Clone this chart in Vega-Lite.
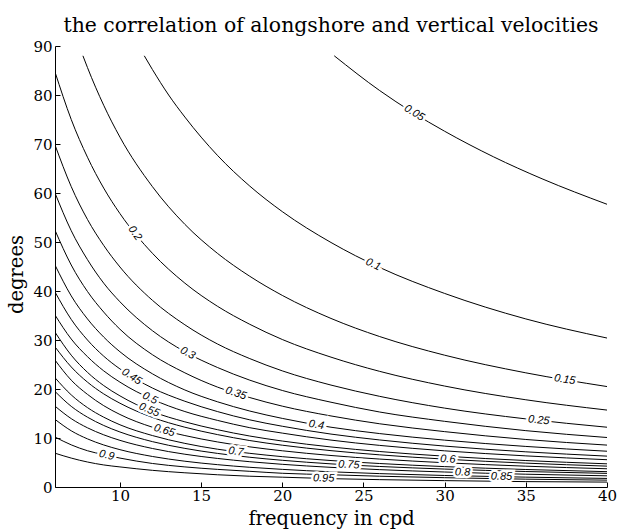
{
  "$schema": "https://vega.github.io/schema/vega-lite/v6.json",
  "width": 552,
  "height": 441,
  "autosize": "none",
  "padding": {"left": 55, "top": 46, "right": 31, "bottom": 44},
  "background": "white",
  "view": {"stroke": null},
  "title": {"text": "the correlation of alongshore and vertical velocities", "font": "DejaVu Serif", "fontSize": 20.4, "fontWeight": "normal", "color": "black", "anchor": "middle", "offset": 3},
  "datasets": {
    "lines": [
      {"r":"0.05","f":23.2,"deg":88.0},{"r":"0.05","f":26,"deg":80.9},{"r":"0.05","f":28,"deg":76.5},{"r":"0.05","f":30,"deg":72.6},{"r":"0.05","f":33,"deg":67.4},{"r":"0.05","f":36,"deg":62.9},{"r":"0.05","f":40,"deg":57.7},
      {"r":"0.1","f":11.5,"deg":88.0},{"r":"0.1","f":12,"deg":85.2},{"r":"0.1","f":13,"deg":80.0},{"r":"0.1","f":14,"deg":75.5},{"r":"0.1","f":16,"deg":67.7},{"r":"0.1","f":18,"deg":61.4},{"r":"0.1","f":20,"deg":56.2},{"r":"0.1","f":23,"deg":49.9},{"r":"0.1","f":26,"deg":44.8},{"r":"0.1","f":30,"deg":39.5},{"r":"0.1","f":35,"deg":34.3},{"r":"0.1","f":40,"deg":30.4},
      {"r":"0.15","f":7.72,"deg":88.0},{"r":"0.15","f":8,"deg":85.6},{"r":"0.15","f":9,"deg":77.9},{"r":"0.15","f":10,"deg":71.4},{"r":"0.15","f":12,"deg":61.3},{"r":"0.15","f":14,"deg":53.6},{"r":"0.15","f":16,"deg":47.7},{"r":"0.15","f":18,"deg":43.0},{"r":"0.15","f":20,"deg":39.1},{"r":"0.15","f":23,"deg":34.4},{"r":"0.15","f":26,"deg":30.7},{"r":"0.15","f":30,"deg":26.9},{"r":"0.15","f":35,"deg":23.3},{"r":"0.15","f":40,"deg":20.5},
      {"r":"0.2","f":6,"deg":84.7},{"r":"0.2","f":7,"deg":75.0},{"r":"0.2","f":8,"deg":67.3},{"r":"0.2","f":9,"deg":61.0},{"r":"0.2","f":10,"deg":55.8},{"r":"0.2","f":12,"deg":47.7},{"r":"0.2","f":14,"deg":41.6},{"r":"0.2","f":16,"deg":36.9},{"r":"0.2","f":18,"deg":33.2},{"r":"0.2","f":20,"deg":30.1},{"r":"0.2","f":23,"deg":26.5},{"r":"0.2","f":26,"deg":23.6},{"r":"0.2","f":30,"deg":20.6},{"r":"0.2","f":35,"deg":17.8},{"r":"0.2","f":40,"deg":15.7},
      {"r":"0.25","f":6,"deg":69.8},{"r":"0.25","f":7,"deg":61.3},{"r":"0.25","f":8,"deg":54.6},{"r":"0.25","f":9,"deg":49.3},{"r":"0.25","f":10,"deg":44.9},{"r":"0.25","f":12,"deg":38.1},{"r":"0.25","f":14,"deg":33.1},{"r":"0.25","f":16,"deg":29.2},{"r":"0.25","f":18,"deg":26.2},{"r":"0.25","f":20,"deg":23.7},{"r":"0.25","f":23,"deg":20.8},{"r":"0.25","f":26,"deg":18.5},{"r":"0.25","f":30,"deg":16.1},{"r":"0.25","f":35,"deg":13.9},{"r":"0.25","f":40,"deg":12.2},
      {"r":"0.3","f":6,"deg":60.0},{"r":"0.3","f":7,"deg":52.3},{"r":"0.3","f":8,"deg":46.4},{"r":"0.3","f":9,"deg":41.6},{"r":"0.3","f":10,"deg":37.8},{"r":"0.3","f":12,"deg":31.9},{"r":"0.3","f":14,"deg":27.6},{"r":"0.3","f":16,"deg":24.4},{"r":"0.3","f":18,"deg":21.8},{"r":"0.3","f":20,"deg":19.7},{"r":"0.3","f":23,"deg":17.3},{"r":"0.3","f":26,"deg":15.3},{"r":"0.3","f":30,"deg":13.4},{"r":"0.3","f":35,"deg":11.5},{"r":"0.3","f":40,"deg":10.1},
      {"r":"0.35","f":6,"deg":52.4},{"r":"0.35","f":7,"deg":45.3},{"r":"0.35","f":8,"deg":39.9},{"r":"0.35","f":9,"deg":35.7},{"r":"0.35","f":10,"deg":32.2},{"r":"0.35","f":12,"deg":27.0},{"r":"0.35","f":14,"deg":23.3},{"r":"0.35","f":16,"deg":20.4},{"r":"0.35","f":18,"deg":18.25},{"r":"0.35","f":20,"deg":16.5},{"r":"0.35","f":23,"deg":14.5},{"r":"0.35","f":26,"deg":12.9},{"r":"0.35","f":30,"deg":11.3},{"r":"0.35","f":35,"deg":9.7},{"r":"0.35","f":40,"deg":8.55},
      {"r":"0.4","f":6,"deg":45.3},{"r":"0.4","f":7,"deg":39.0},{"r":"0.4","f":8,"deg":34.3},{"r":"0.4","f":9,"deg":30.6},{"r":"0.4","f":10,"deg":27.6},{"r":"0.4","f":12,"deg":23.1},{"r":"0.4","f":14,"deg":19.8},{"r":"0.4","f":16,"deg":17.4},{"r":"0.4","f":18,"deg":15.5},{"r":"0.4","f":20,"deg":14.0},{"r":"0.4","f":23,"deg":12.2},{"r":"0.4","f":26,"deg":10.9},{"r":"0.4","f":30,"deg":9.56},{"r":"0.4","f":35,"deg":8.28},{"r":"0.4","f":40,"deg":7.3},
      {"r":"0.45","f":6,"deg":39.8},{"r":"0.45","f":7,"deg":34.2},{"r":"0.45","f":8,"deg":30.0},{"r":"0.45","f":9,"deg":26.7},{"r":"0.45","f":10,"deg":24.1},{"r":"0.45","f":12,"deg":20.2},{"r":"0.45","f":14,"deg":17.5},{"r":"0.45","f":16,"deg":15.4},{"r":"0.45","f":18,"deg":13.7},{"r":"0.45","f":20,"deg":12.4},{"r":"0.45","f":23,"deg":10.8},{"r":"0.45","f":26,"deg":9.6},{"r":"0.45","f":30,"deg":8.35},{"r":"0.45","f":35,"deg":7.18},{"r":"0.45","f":40,"deg":6.3},
      {"r":"0.5","f":6,"deg":35.1},{"r":"0.5","f":7,"deg":30.2},{"r":"0.5","f":8,"deg":26.6},{"r":"0.5","f":9,"deg":23.7},{"r":"0.5","f":10,"deg":21.4},{"r":"0.5","f":12,"deg":17.9},{"r":"0.5","f":14,"deg":15.4},{"r":"0.5","f":16,"deg":13.6},{"r":"0.5","f":18,"deg":12.1},{"r":"0.5","f":20,"deg":11.0},{"r":"0.5","f":23,"deg":9.57},{"r":"0.5","f":26,"deg":8.49},{"r":"0.5","f":30,"deg":7.38},{"r":"0.5","f":35,"deg":6.35},{"r":"0.5","f":40,"deg":5.57},
      {"r":"0.55","f":6,"deg":31.6},{"r":"0.55","f":7,"deg":26.9},{"r":"0.55","f":8,"deg":23.4},{"r":"0.55","f":9,"deg":20.7},{"r":"0.55","f":10,"deg":18.6},{"r":"0.55","f":12,"deg":15.4},{"r":"0.55","f":14,"deg":13.3},{"r":"0.55","f":16,"deg":11.7},{"r":"0.55","f":18,"deg":10.4},{"r":"0.55","f":20,"deg":9.38},{"r":"0.55","f":23,"deg":8.17},{"r":"0.55","f":26,"deg":7.24},{"r":"0.55","f":30,"deg":6.29},{"r":"0.55","f":35,"deg":5.4},{"r":"0.55","f":40,"deg":4.73},
      {"r":"0.6","f":6,"deg":28.6},{"r":"0.6","f":7,"deg":24.5},{"r":"0.6","f":8,"deg":21.4},{"r":"0.6","f":9,"deg":19.0},{"r":"0.6","f":10,"deg":17.1},{"r":"0.6","f":12,"deg":14.2},{"r":"0.6","f":14,"deg":12.2},{"r":"0.6","f":16,"deg":10.7},{"r":"0.6","f":18,"deg":9.48},{"r":"0.6","f":20,"deg":8.53},{"r":"0.6","f":23,"deg":7.42},{"r":"0.6","f":26,"deg":6.56},{"r":"0.6","f":30,"deg":5.69},{"r":"0.6","f":35,"deg":4.87},{"r":"0.6","f":40,"deg":4.26},
      {"r":"0.65","f":6,"deg":25.9},{"r":"0.65","f":7,"deg":21.8},{"r":"0.65","f":8,"deg":18.9},{"r":"0.65","f":9,"deg":16.6},{"r":"0.65","f":10,"deg":14.8},{"r":"0.65","f":12,"deg":12.2},{"r":"0.65","f":14,"deg":10.5},{"r":"0.65","f":16,"deg":9.2},{"r":"0.65","f":18,"deg":8.19},{"r":"0.65","f":20,"deg":7.39},{"r":"0.65","f":23,"deg":6.43},{"r":"0.65","f":26,"deg":5.7},{"r":"0.65","f":30,"deg":4.95},{"r":"0.65","f":35,"deg":4.25},{"r":"0.65","f":40,"deg":3.72},
      {"r":"0.7","f":6,"deg":22.3},{"r":"0.7","f":7,"deg":18.8},{"r":"0.7","f":8,"deg":16.2},{"r":"0.7","f":9,"deg":14.25},{"r":"0.7","f":10,"deg":12.7},{"r":"0.7","f":12,"deg":10.5},{"r":"0.7","f":14,"deg":8.9},{"r":"0.7","f":16,"deg":7.72},{"r":"0.7","f":18,"deg":6.87},{"r":"0.7","f":20,"deg":6.19},{"r":"0.7","f":23,"deg":5.4},{"r":"0.7","f":26,"deg":4.79},{"r":"0.7","f":30,"deg":4.16},{"r":"0.7","f":35,"deg":3.57},{"r":"0.7","f":40,"deg":3.13},
      {"r":"0.75","f":6,"deg":19.5},{"r":"0.75","f":7,"deg":16.46},{"r":"0.75","f":8,"deg":14.25},{"r":"0.75","f":9,"deg":12.56},{"r":"0.75","f":10,"deg":11.23},{"r":"0.75","f":12,"deg":9.26},{"r":"0.75","f":14,"deg":7.88},{"r":"0.75","f":16,"deg":6.86},{"r":"0.75","f":18,"deg":6.07},{"r":"0.75","f":20,"deg":5.45},{"r":"0.75","f":23,"deg":4.72},{"r":"0.75","f":26,"deg":4.19},{"r":"0.75","f":30,"deg":3.66},{"r":"0.75","f":35,"deg":3.16},{"r":"0.75","f":40,"deg":2.78},
      {"r":"0.8","f":6,"deg":16.5},{"r":"0.8","f":7,"deg":13.95},{"r":"0.8","f":8,"deg":12.08},{"r":"0.8","f":9,"deg":10.65},{"r":"0.8","f":10,"deg":9.52},{"r":"0.8","f":12,"deg":7.86},{"r":"0.8","f":14,"deg":6.69},{"r":"0.8","f":16,"deg":5.83},{"r":"0.8","f":18,"deg":5.16},{"r":"0.8","f":20,"deg":4.63},{"r":"0.8","f":23,"deg":4.01},{"r":"0.8","f":26,"deg":3.54},{"r":"0.8","f":30,"deg":3.06},{"r":"0.8","f":35,"deg":2.61},{"r":"0.8","f":40,"deg":2.28},
      {"r":"0.85","f":6,"deg":13.8},{"r":"0.85","f":7,"deg":11.47},{"r":"0.85","f":8,"deg":9.82},{"r":"0.85","f":9,"deg":8.58},{"r":"0.85","f":10,"deg":7.62},{"r":"0.85","f":12,"deg":6.23},{"r":"0.85","f":14,"deg":5.26},{"r":"0.85","f":16,"deg":4.56},{"r":"0.85","f":18,"deg":4.02},{"r":"0.85","f":20,"deg":3.6},{"r":"0.85","f":23,"deg":3.1},{"r":"0.85","f":26,"deg":2.73},{"r":"0.85","f":30,"deg":2.35},{"r":"0.85","f":35,"deg":2.01},{"r":"0.85","f":40,"deg":1.75},
      {"r":"0.9","f":6,"deg":10.2},{"r":"0.9","f":7,"deg":8.6},{"r":"0.9","f":8,"deg":7.4},{"r":"0.9","f":9,"deg":6.6},{"r":"0.9","f":10,"deg":5.9},{"r":"0.9","f":12,"deg":4.8},{"r":"0.9","f":14,"deg":4.1},{"r":"0.9","f":16,"deg":3.6},{"r":"0.9","f":18,"deg":3.2},{"r":"0.9","f":20,"deg":2.8},{"r":"0.9","f":23,"deg":2.5},{"r":"0.9","f":26,"deg":2.2},{"r":"0.9","f":30,"deg":1.9},{"r":"0.9","f":35,"deg":1.6},{"r":"0.9","f":40,"deg":1.4},
      {"r":"0.95","f":6,"deg":6.9},{"r":"0.95","f":7,"deg":5.9},{"r":"0.95","f":8,"deg":5.1},{"r":"0.95","f":9,"deg":4.5},{"r":"0.95","f":10,"deg":4.1},{"r":"0.95","f":12,"deg":3.4},{"r":"0.95","f":14,"deg":2.9},{"r":"0.95","f":16,"deg":2.5},{"r":"0.95","f":18,"deg":2.2},{"r":"0.95","f":20,"deg":2.0},{"r":"0.95","f":23,"deg":1.7},{"r":"0.95","f":26,"deg":1.5},{"r":"0.95","f":30,"deg":1.3},{"r":"0.95","f":35,"deg":1.1},{"r":"0.95","f":40,"deg":1.0}
    ],
    "labels": [
      {"r":"0.05","f":28.13,"deg":76.3,"angle":32},
      {"r":"0.1","f":25.6,"deg":45.4,"angle":25},
      {"r":"0.15","f":37.4,"deg":21.9,"angle":9},
      {"r":"0.2","f":10.92,"deg":51.8,"angle":55},
      {"r":"0.25","f":35.8,"deg":13.6,"angle":6},
      {"r":"0.3","f":14.17,"deg":27.3,"angle":29},
      {"r":"0.35","f":17.14,"deg":19.1,"angle":18},
      {"r":"0.4","f":22.1,"deg":12.65,"angle":9},
      {"r":"0.45","f":10.72,"deg":22.5,"angle":33},
      {"r":"0.5","f":11.85,"deg":18.1,"angle":26},
      {"r":"0.55","f":11.8,"deg":15.7,"angle":23},
      {"r":"0.6","f":30.2,"deg":5.65,"angle":3},
      {"r":"0.65","f":12.73,"deg":11.5,"angle":17},
      {"r":"0.7","f":17.14,"deg":7.2,"angle":7},
      {"r":"0.75","f":24.1,"deg":4.5,"angle":3},
      {"r":"0.8","f":31.1,"deg":2.95,"angle":2},
      {"r":"0.85","f":33.5,"deg":2.1,"angle":1},
      {"r":"0.9","f":9.18,"deg":6.45,"angle":13},
      {"r":"0.95","f":22.55,"deg":1.75,"angle":1}
    ]
  },
  "encoding": {
    "x": {"field": "f", "type": "quantitative", "scale": {"domain": [6, 40], "nice": false, "zero": false},
      "axis": {"values": [10, 15, 20, 25, 30, 35, 40], "title": "frequency in cpd", "titleFont": "DejaVu Serif", "titleFontSize": 19.5, "titleFontWeight": "normal", "titleColor": "black", "titlePadding": 0, "titleY": 41, "titleBaseline": "bottom",
        "labelFont": "DejaVu Serif", "labelFontSize": 15, "labelColor": "black", "labelFlush": false, "labelOverlap": false, "labelPadding": 6,
        "domainColor": "black", "tickColor": "black", "tickSize": -5, "grid": false}},
    "y": {"field": "deg", "type": "quantitative", "scale": {"domain": [0, 90], "nice": false, "zero": false},
      "axis": {"values": [0, 10, 20, 30, 40, 50, 60, 70, 80, 90], "title": "degrees", "titleFont": "DejaVu Serif", "titleFontSize": 19.5, "titleFontWeight": "normal", "titleColor": "black", "titleAngle": -90, "titleX": -48, "titleY": 228, "titleBaseline": "top", "titleAlign": "center",
        "labelFont": "DejaVu Serif", "labelFontSize": 15, "labelColor": "black", "labelFlush": false, "labelOverlap": false, "labelPadding": 8,
        "domainColor": "black", "tickColor": "black", "tickSize": -5, "grid": false}}
  },
  "layer": [
    {"data": {"name": "lines"}, "mark": {"type": "line", "color": "black", "strokeWidth": 1, "interpolate": "monotone", "clip": true},
      "encoding": {"detail": {"field": "r"}, "order": {"field": "f"}}},
    {"data": {"name": "labels"}, "mark": {"type": "text", "font": "Liberation Sans", "fontStyle": "italic", "fontSize": 11, "fill": "white", "stroke": "white", "strokeWidth": 5, "align": "center", "baseline": "middle"},
      "encoding": {"text": {"field": "r"}, "angle": {"field": "angle", "type": "quantitative", "scale": null}}},
    {"data": {"name": "labels"}, "mark": {"type": "text", "font": "Liberation Sans", "fontStyle": "italic", "fontSize": 11, "color": "black", "align": "center", "baseline": "middle"},
      "encoding": {"text": {"field": "r"}, "angle": {"field": "angle", "type": "quantitative", "scale": null}}}
  ]
}
